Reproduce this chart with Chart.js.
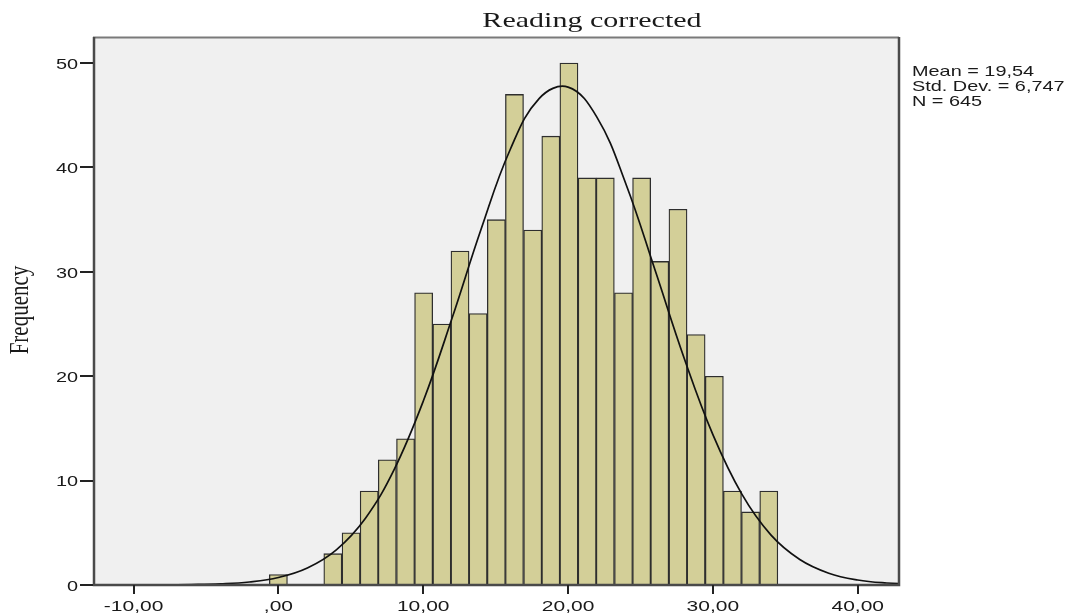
<!DOCTYPE html>
<html>
<head>
<meta charset="utf-8">
<script src="https://cdn.jsdelivr.net/npm/chart.js@4.4.1/dist/chart.umd.min.js"></script>
<style>
body { margin: 0; background: #fff; }
</style>
</head>
<body>
<canvas id="histo" width="1085" height="614"></canvas>
<script>
// Bins (centres) and counts
var binCenters = [0.00, 1.25, 2.51, 3.76, 5.02, 6.27, 7.52, 8.78, 10.03, 11.29, 12.54, 13.79, 15.05, 16.30,
    17.56, 18.81, 20.06, 21.32, 22.57, 23.83, 25.08, 26.33, 27.59, 28.84, 30.10, 31.35, 32.60, 33.86];
var frequency = [1, 0, 0, 3, 5, 9, 12, 14, 28, 25, 32, 26, 35, 47, 34, 43, 50, 39, 39, 28, 39, 31, 36, 24, 20, 9, 7, 9];
// normal curve, read at every 2 units
var curveX = [-14, -12, -10, -8, -6, -4, -2, 0, 2, 4, 6, 8, 10, 12, 14, 16, 18, 20, 22, 24, 26, 28, 30, 32, 34, 36, 38, 40, 42, 44];
var curveY = [0, 0, 0, 0.01, 0.04, 0.11, 0.29, 0.72, 1.63, 3.37, 6.38, 11.08, 17.6, 25.6, 34.1, 41.7, 46.6, 47.7,
    44.8, 38.4, 30.2, 21.8, 14.4, 8.7, 4.8, 2.44, 1.13, 0.48, 0.19, 0.07];
var xTickLabels = { "-10": "-10,00", "0": ",00", "10": "10,00", "20": "20,00", "30": "30,00", "40": "40,00" };
var yTickLabels = ["0", "10", "20", "30", "40", "50"];
var titleText = "Reading corrected";
var yTitle = "Frequency";
var stats = ["Mean = 19,54", "Std. Dev. = 6,747", "N = 645"];

// stretched text, the original picture is wider than high
function wideText(ctx, str, x, y, sx, align) {
    ctx.save();
    ctx.translate(x, y);
    ctx.scale(sx, 1);
    ctx.textAlign = align;
    ctx.fillText(str, 0, 0);
    ctx.restore();
}

var spssFrame = {
    id: "spssFrame",
    beforeDraw: function (chart) {
        var a = chart.chartArea, ctx = chart.ctx;
        ctx.save();
        ctx.fillStyle = "#f0f0f0";
        ctx.fillRect(a.left, a.top, a.right - a.left, a.bottom - a.top);
        ctx.restore();
    },
    afterDraw: function (chart) {
        var a = chart.chartArea, ctx = chart.ctx;
        var xs = chart.scales.x, ys = chart.scales.y;
        ctx.save();
        ctx.strokeStyle = "#7a7a7a";
        ctx.lineWidth = 2;
        ctx.beginPath();
        ctx.moveTo(a.left, a.top + 0.5);
        ctx.lineTo(a.right, a.top + 0.5);
        ctx.stroke();
        ctx.strokeStyle = "#4a4a4a";
        ctx.lineWidth = 2.5;
        ctx.beginPath();
        ctx.moveTo(a.left + 1, a.top);
        ctx.lineTo(a.left + 1, a.bottom);
        ctx.lineTo(a.right, a.bottom);
        ctx.lineTo(a.right, a.top);
        ctx.stroke();

        // tick marks
        ctx.fillStyle = "#222";
        xs.ticks.forEach(function (t) {
            var px = Math.round(xs.getPixelForValue(t.value));
            ctx.fillRect(px - 1, a.bottom, 2, 9);
        });
        ys.ticks.forEach(function (t) {
            var py = Math.round(ys.getPixelForValue(t.value));
            ctx.fillRect(a.left - 13, py - 1, 13, 2);
        });

        ctx.fillStyle = "#1a1a1a";
        ctx.textBaseline = "alphabetic";
        // title
        ctx.font = "21px 'Liberation Serif'";
        wideText(ctx, titleText, 592, 27, 1.43, "center");
        // x tick labels
        ctx.font = "14px 'Liberation Sans'";
        xs.ticks.forEach(function (t) {
            var lab = xTickLabels[String(t.value)];
            if (lab) wideText(ctx, lab, xs.getPixelForValue(t.value), 611, 1.5, "center");
        });
        // y tick labels
        ctx.textBaseline = "middle";
        ys.ticks.forEach(function (t, i) {
            wideText(ctx, yTickLabels[i], 78, ys.getPixelForValue(t.value) + 2, 1.42, "right");
        });
        // stats box
        ctx.textBaseline = "alphabetic";
        ctx.font = "14.5px 'Liberation Sans'";
        stats.forEach(function (s, i) {
            wideText(ctx, s, 912, 76 + i * 15, 1.37, "left");
        });
        // y title
        ctx.font = "21px 'Liberation Serif'";
        ctx.translate(28, 310);
        ctx.rotate(-Math.PI / 2);
        ctx.scale(1, 1.25);
        ctx.textAlign = "center";
        ctx.fillText(yTitle, 0, 0);
        ctx.restore();
    }
};

var bars = binCenters.map(function (x, i) { return { x: x, y: frequency[i] }; });
var curve = curveX.map(function (x, i) { return { x: x, y: curveY[i] }; });

new Chart(document.getElementById("histo"), {
    type: "bar",
    data: {
        datasets: [{
            type: "line",
            data: curve,
            borderColor: "#111",
            borderWidth: 1.7,
            pointRadius: 0,
            tension: 0.4,
            fill: false,
            order: 0
        }, {
            type: "bar",
            data: bars,
            backgroundColor: "#d3cf98",
            borderColor: "#2e2e2e",
            borderWidth: 1.3,
            barPercentage: 1,
            categoryPercentage: 1,
            order: 1
        }]
    },
    options: {
        responsive: false,
        animation: false,
        layout: { padding: { top: 37, right: 186, left: 0, bottom: 0 } },
        plugins: { legend: { display: false }, title: { display: false }, tooltip: { enabled: false } },
        scales: {
            x: {
                type: "linear",
                offset: false,
                min: -12.8,
                max: 42.85,
                ticks: { stepSize: 10, includeBounds: false, display: false },
                grid: { display: false, offset: false },
                border: { display: false },
                afterFit: function (s) { s.height = 29; }
            },
            y: {
                min: 0,
                max: 52.5,
                ticks: { stepSize: 10, includeBounds: false, display: false },
                grid: { display: false },
                border: { display: false },
                afterFit: function (s) { s.width = 93; }
            }
        }
    },
    plugins: [spssFrame]
});
</script>
</body>
</html>
